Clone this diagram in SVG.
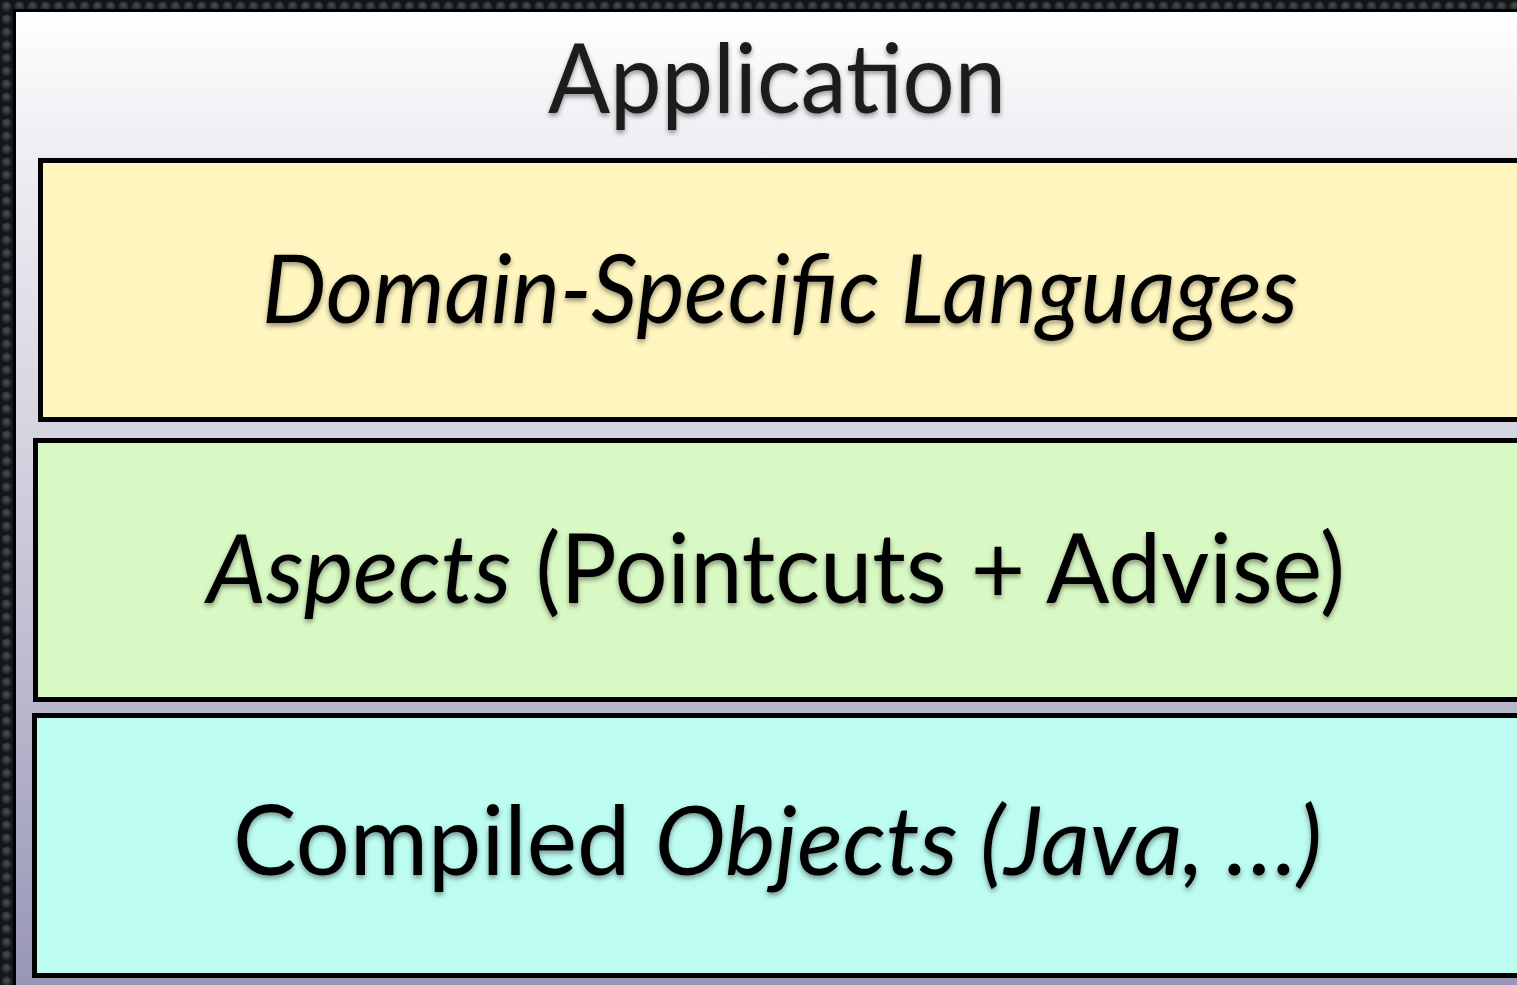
<svg xmlns="http://www.w3.org/2000/svg" width="1517" height="985" viewBox="0 0 1517 985">
  <style>
    .layer { stroke: #000; stroke-width: 5; }
    .lbl { font-family: Lato, "Open Sans", "Liberation Sans", sans-serif; font-size: 96px; fill: #000; text-anchor: start; }
    .it { font-style: italic; }
  </style>
  <defs>
    <pattern id="tex" x="0" y="0" width="13" height="13" patternUnits="userSpaceOnUse">
      <rect width="13" height="13" fill="#141719"/>
      <circle cx="6.5" cy="6.5" r="5" fill="url(#bump)"/>
    </pattern>
    <radialGradient id="bump" cx="0.5" cy="0.4" r="0.6">
      <stop offset="0" stop-color="#4a5056"/>
      <stop offset="1" stop-color="#1c2024"/>
    </radialGradient>
    <linearGradient id="appGrad" gradientUnits="userSpaceOnUse" x1="0" y1="12" x2="0" y2="985">
      <stop offset="0" stop-color="#ffffff"/>
      <stop offset="0.14" stop-color="#eeeef3"/>
      <stop offset="0.43" stop-color="#d5d5e1"/>
      <stop offset="0.71" stop-color="#b8b7cc"/>
      <stop offset="1" stop-color="#9896b6"/>
    </linearGradient>
    <filter id="shadow" x="-5%" y="-20%" width="110%" height="150%">
      <feDropShadow dx="0" dy="3" stdDeviation="2.5" flood-color="#000" flood-opacity="0.4"/>
    </filter>
  </defs>

  <rect x="0" y="0" width="1517" height="985" fill="url(#tex)"/>

  <g id="application">
    <rect x="13" y="9" width="1510" height="990" fill="#000"/>
    <rect x="16" y="12" width="1510" height="990" fill="url(#appGrad)"/>
    <text class="lbl" x="548" y="113" textLength="458" lengthAdjust="spacingAndGlyphs" fill="#1a1a1a" style="fill:#1a1a1a" filter="url(#shadow)">Application</text>
  </g>

  <g id="dsl">
    <rect class="layer" x="40.5" y="160.5" width="1500" height="259" fill="#fff5bf"/>
    <text class="lbl it" x="262" y="323" textLength="1036" lengthAdjust="spacingAndGlyphs" filter="url(#shadow)">Domain-Specific Languages</text>
  </g>

  <g id="aspects">
    <rect class="layer" x="35.5" y="440.5" width="1500" height="259" fill="#d8f9c3"/>
    <text class="lbl" x="207" y="603" textLength="1138" lengthAdjust="spacingAndGlyphs" filter="url(#shadow)"><tspan class="it">Aspects</tspan> (Pointcuts + Advise)</text>
  </g>

  <g id="compiled">
    <rect class="layer" x="34.5" y="715.5" width="1500" height="260" fill="#bcfcf1"/>
    <text class="lbl" x="233" y="875" textLength="1089" lengthAdjust="spacingAndGlyphs" filter="url(#shadow)">Compiled <tspan class="it">Objects (Java, …)</tspan></text>
  </g>
</svg>
